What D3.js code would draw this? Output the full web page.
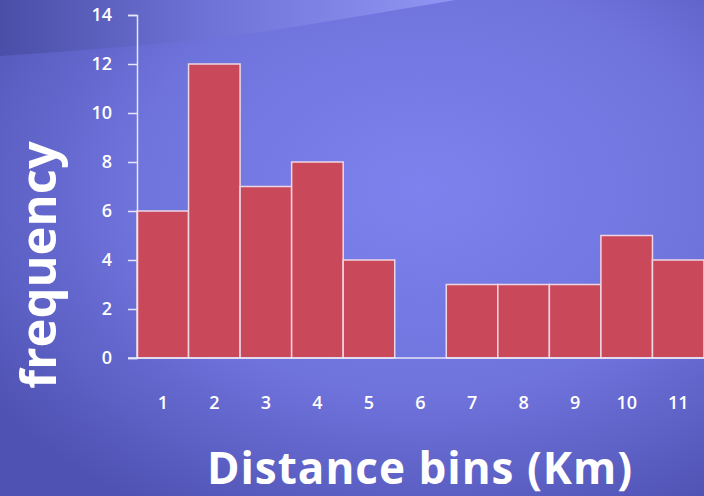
<!DOCTYPE html>
<meta charset="utf-8">
<style>
  body { margin: 0; }
  .axis path, .axis line { stroke: #e6e6f6; stroke-width: 1.5px; }
  .axis text { fill: #ffffff; font-family: "Open Sans", sans-serif; font-size: 18px; font-weight: 600; }
  .bar { fill: #c9485a; stroke: #efd6e4; stroke-width: 1.5px; }
  .title { fill: #ffffff; font-family: "Open Sans", sans-serif; font-weight: bold; }
</style>
<svg width="704" height="496"></svg>
<script src="https://d3js.org/d3.v7.min.js"></script>
<script>

var bins = ["1", "2", "3", "4", "5", "6", "7", "8", "9", "10", "11"];
var counts = [6, 12, 7, 8, 4, 0, 3, 3, 3, 5, 4];
var yTicks = [0, 2, 4, 6, 8, 10, 12, 14];

var svg = d3.select("svg"),
    margin = {top: 15, right: 0, bottom: 138, left: 137},
    width = +svg.attr("width") - margin.left - margin.right,
    height = +svg.attr("height") - margin.top - margin.bottom;

// background
var defs = svg.append("defs");
var bg = defs.append("radialGradient")
    .attr("id", "bg")
    .attr("cx", "60%").attr("cy", "38%").attr("r", "75%");
bg.append("stop").attr("offset", "0%").attr("stop-color", "#7e82ee");
bg.append("stop").attr("offset", "55%").attr("stop-color", "#6f73dc");
bg.append("stop").attr("offset", "100%").attr("stop-color", "#4f52b2");

var band = defs.append("linearGradient")
    .attr("id", "band")
    .attr("x1", "0%").attr("x2", "100%").attr("y1", "0%").attr("y2", "0%");
band.append("stop").attr("offset", "0%").attr("stop-color", "#4b4ea6");
band.append("stop").attr("offset", "45%").attr("stop-color", "#6e72d6");
band.append("stop").attr("offset", "100%").attr("stop-color", "#9195f3");

svg.append("rect")
    .attr("width", 704).attr("height", 496)
    .attr("fill", "url(#bg)");

// top-left swoosh
svg.append("path")
    .attr("d", "M0,0 L0,56 C90,50 200,42 300,26 C360,16 410,8 455,0 Z")
    .attr("fill", "url(#band)");

var x = d3.scaleBand().domain(bins).range([0, width]).padding(0);
var y = d3.scaleLinear().domain([0, 14]).range([height, 0]);

var g = svg.append("g")
    .attr("transform", "translate(" + margin.left + "," + margin.top + ")");

g.selectAll(".bar")
  .data(counts)
  .enter().append("rect")
    .attr("class", "bar")
    .attr("x", function(d, i) { return x(bins[i]); })
    .attr("y", function(d) { return y(d); })
    .attr("width", x.bandwidth())
    .attr("height", function(d) { return height - y(d); });

var yAxis = g.append("g")
    .attr("class", "axis")
    .call(d3.axisLeft(y).tickValues(yTicks).tickSize(9).tickSizeOuter(9).tickPadding(16));

g.append("line")
    .attr("x1", -9).attr("x2", width)
    .attr("y1", y(0)).attr("y2", y(0))
    .attr("stroke", "#e6e6f6").attr("stroke-width", 1.5);

var xAxis = g.append("g")
    .attr("class", "axis")
    .attr("transform", "translate(0," + height + ")")
    .call(d3.axisBottom(x).tickSize(0).tickPadding(38));
xAxis.select(".domain").remove();

svg.append("text")
    .attr("class", "title")
    .attr("transform", "translate(56,265) rotate(-90)")
    .attr("text-anchor", "middle")
    .style("font-size", "49px")
    .text("frequency");

svg.append("text")
    .attr("class", "title")
    .attr("x", 420).attr("y", 484)
    .attr("text-anchor", "middle")
    .style("font-size", "44px")
    .style("letter-spacing", "1px")
    .text("Distance bins (Km)");

</script>
